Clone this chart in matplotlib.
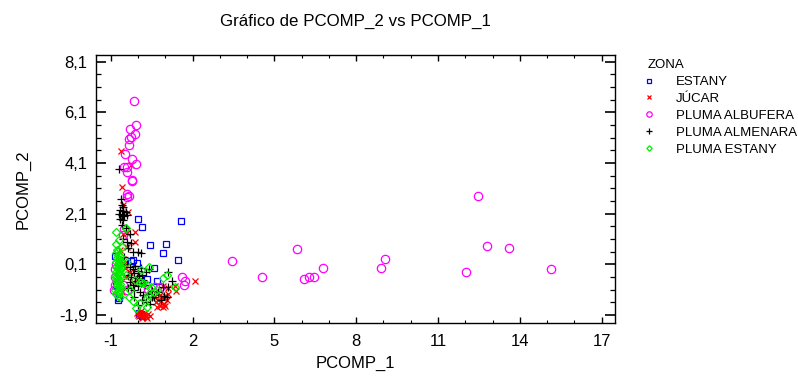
import matplotlib
matplotlib.use("Agg")
import matplotlib.pyplot as plt
from matplotlib.ticker import FixedLocator, MultipleLocator, FuncFormatter

plt.rcParams['font.family'] = ['Liberation Sans', 'DejaVu Sans']

# ---- data: principal component scores by zone ----
estany_x = [0.00, 0.15, 1.56, 0.45, 1.03, 0.91, 1.45, 0.58, -0.18, -0.05, 0.70, 0.32,
            -0.68, 0.05, 0.10, -0.85, -0.80, -0.25, 0.15, -0.75, 0.12]
estany_y = [1.89, 1.59, 1.82, 0.86, 0.90, 0.55, 0.28, -0.03, 0.28, 0.14, -0.55, -0.47,
            -1.24, -1.83, -1.90, 0.45, -0.70, 0.23, -1.95, -1.30, -1.87]

jucar_x = [-0.62, -0.27, -0.59, -0.35, -0.54, -0.60, -0.10, -0.11, -0.41, -0.54, 2.09, 0.91,
           1.40, 1.36, 1.11, -0.55, -0.50, -0.48, -0.60, -0.45, -0.65, -0.40, -0.30, -0.20,
           0.70, 0.80, 0.90, 1.00, 0.75, 0.85, 0.95, 1.05, 0.80, 0.90, 0.65, 1.10, 0.60,
           1.00, 0.70, -0.03, 0.05, 0.12, 0.20, 0.28, 0.37, 0.15, 0.25, 0.00, 0.32, 0.10, 0.45]
jucar_y = [4.59, 4.02, 3.15, 2.18, 2.44, 1.98, 0.97, 1.39, 1.33, 1.30, -0.55, -0.76,
           -0.94, -0.74, -0.84, 0.30, 0.10, -0.05, -0.98, -0.40, 0.65, 0.80, -0.20, -0.60,
           -1.05, -1.10, -1.20, -1.15, -1.30, -1.35, -1.45, -1.30, -1.55, -1.60, -1.40, -1.05, -1.20,
           -1.55, -1.60, -1.80, -1.95, -1.90, -1.98, -1.92, -1.85, -2.00, -1.80, -1.88, -2.00, -1.75, -1.95]

albufera_x = [3.44, 4.54, 5.84, 6.10, 6.28, 6.44, 6.79, 8.92, 9.07, 12.04, 12.45, 12.78, 13.62, 15.15,
              1.61, 1.73, 1.67, 0.63, 0.81, 0.36,
              -0.14, -0.08, -0.29, -0.11, -0.27, -0.32, -0.33, -0.46, -0.22, -0.06, -0.50, -0.39,
              -0.41, -0.23, -0.21, -0.39, -0.34, -0.41, -0.54, -0.50,
              -0.85, -0.85, -0.85, -0.88, -0.80, -0.55, -0.41]
albufera_y = [0.23, -0.41, 0.69, -0.48, -0.41, -0.41, -0.06, -0.03, 0.30, -0.19, 2.81, 0.81, 0.75, -0.08,
              -0.39, -0.56, -0.72, -0.81, -0.81, -0.87,
              6.55, 5.59, 5.43, 5.25, 5.12, 5.06, 4.81, 4.47, 4.27, 4.05, 3.93, 3.93,
              3.76, 3.42, 3.39, 2.90, 2.81, 2.77, 1.26, 1.50,
              -0.10, -0.40, -0.70, -0.90, 0.10, -0.72, -0.91]

almenara_x = [-0.70, -0.63, -0.60, -0.54, -0.65, -0.55, -0.45, -0.70, -0.60, -0.50, -0.40, -0.65,
              -0.55, -0.60, -0.45, -0.29, -0.40, -0.25, -0.17, 0.01, 0.11, -0.55, -0.35, -0.50,
              -0.40, -0.30, -0.20, -0.10, 0.00, 0.10, -0.35, -0.25, -0.15, -0.05, 0.05, 0.15,
              -0.30, -0.20, -0.10, 0.00, 0.10, 0.20, -0.35, -0.15, 0.30, 0.40, 0.25,
              1.09, 1.26, 1.11, 0.91, 1.08, 0.50,
              0.08, 0.20, 0.35, 0.50, 0.60, 0.15, 0.30, 0.01, -0.15, 0.45, 0.75, 0.85, 0.95]
almenara_y = [3.86, 2.67, 2.44, 2.38, 2.25, 2.20, 2.18, 2.10, 2.05, 2.00, 2.05, 1.90,
              1.85, 1.65, 1.55, 1.30, 1.00, 0.95, 0.60, 0.60, 0.56, 1.10, 0.75, 0.40,
              0.10, 0.00, -0.10, 0.05, -0.15, -0.05, -0.30, -0.40, -0.25, -0.45, -0.35, -0.30,
              -0.60, -0.70, -0.55, -0.75, -0.65, -0.50, -0.85, -0.90, -0.20, -0.10, -0.70,
              -0.21, -0.56, -0.78, -0.81, -1.18, -1.20,
              -1.00, -1.10, -1.05, -0.95, -1.20, -1.30, -1.40, -1.50, -1.20, -1.45, -1.00, -1.30, -1.15]

pestany_x = [-0.81, -0.68, -0.44, -0.60, -0.74,
             -0.80, -0.72, -0.65, -0.78, -0.70, -0.62, -0.82, -0.75, -0.68, -0.80,
             -0.73, -0.66, -0.79, -0.71, -0.63, -0.84, -0.76, -0.69, -0.81, -0.74,
             -0.67, -0.78, -0.71, -0.64, -0.83, -0.75, -0.68, -0.80, -0.72, -0.65,
             -0.77, -0.70, -0.62, -0.82, -0.74, -0.67, -0.79, -0.72,
             0.41, 0.11, -0.12, 0.08, 0.20, 0.34, 0.49, 0.93, 1.06, 1.34,
             -0.32, -0.17, 0.08, 0.32, -0.07, 0.32, 0.38, -0.45, -0.40, -0.30, 0.60, 0.70]
pestany_y = [1.37, 1.06, 1.55, 0.80, 0.63,
             0.55, 0.48, 0.42, 0.36, 0.30, 0.24, 0.18, 0.12, 0.06, 0.00,
             -0.06, -0.12, -0.18, -0.24, -0.30, -0.36, -0.42, -0.48, -0.54, -0.60,
             -0.66, -0.72, -0.78, -0.84, -0.90, -0.96, -1.02, -1.08, -1.14, -1.20,
             0.68, 0.20, -0.02, -0.40, -0.25, -0.80, 0.90, -1.00,
             -0.01, -0.12, -0.52, -0.59, -0.65, -0.72, -0.81, -0.43, -0.32, -0.78,
             -1.18, -1.34, -1.44, -1.57, -1.61, -1.24, -1.11, -0.30, 0.20, -0.90, -1.00, -0.90]

zone_names = ['ESTANY', 'JÚCAR', 'PLUMA ALBUFERA', 'PLUMA ALMENARA', 'PLUMA ESTANY']

x_major = [-1, 2, 5, 8, 11, 14, 17]
y_major = [-1.9, 0.1, 2.1, 4.1, 6.1, 8.1]

# ---- figure ----
fig = plt.figure(figsize=(7.98, 3.76), dpi=100)
ax = fig.add_axes([0.12, 0.1418, 0.651, 0.7127])

series = [
    (estany_x, estany_y, dict(marker='s', color='#0000ff', ms=4.0, mfc='none', mew=0.9)),
    (jucar_x, jucar_y, dict(marker='x', color='#ff0000', ms=4.5, mew=0.9)),
    (albufera_x, albufera_y, dict(marker='o', color='#ff00ff', ms=6.0, mfc='none', mew=0.9)),
    (almenara_x, almenara_y, dict(marker='+', color='#000000', ms=6.0, mew=0.9)),
    (pestany_x, pestany_y, dict(marker='D', color='#00ee00', ms=4.2, mfc='none', mew=0.9)),
]
handles = []
for (xs, ys, st), name in zip(series, zone_names):
    h, = ax.plot(xs, ys, linestyle='none', label=name, **st)
    handles.append(h)

ax.set_xlim(-1.55, 17.5)
ax.set_ylim(-2.2, 8.38)

ax.xaxis.set_major_locator(FixedLocator(x_major))
ax.xaxis.set_minor_locator(MultipleLocator(1))
ax.yaxis.set_major_locator(FixedLocator(y_major))
ax.yaxis.set_minor_locator(FixedLocator([v / 10 for v in range(-19, 82, 5)]))

comma = FuncFormatter(lambda v, p: ('%.1f' % v).replace('.', ','))
ax.yaxis.set_major_formatter(comma)
ax.xaxis.set_major_formatter(FuncFormatter(lambda v, p: '%d' % round(v)))

ax.tick_params(axis='both', which='both', direction='in', top=True, right=True,
               labelsize=12, color='black')
ax.tick_params(axis='x', which='major', length=4, width=1, pad=8)
ax.tick_params(axis='x', which='minor', length=2.5, width=0.8)
ax.tick_params(axis='y', which='major', length=7.5, width=1.2, pad=6)
ax.tick_params(axis='y', which='minor', length=3.8, width=0.9)
for s in ax.spines.values():
    s.set_linewidth(1.0)

ax.set_xlabel('PCOMP_1', fontsize=12, labelpad=5)
ax.set_ylabel('PCOMP_2', fontsize=12, labelpad=20)
fig.text(0.4455, 0.942, 'Gráfico de PCOMP_2 vs PCOMP_1', ha='center', va='center', fontsize=12.2)

leg = ax.legend(handles=handles, loc='upper left', bbox_to_anchor=(0.8117, 0.842),
                bbox_transform=fig.transFigure, frameon=False, title='ZONA',
                alignment='left', fontsize=9.5, title_fontsize=9.5, markerscale=0.65,
                handlelength=0.2, handletextpad=1.95, labelspacing=0.35, borderaxespad=0,
                borderpad=0)

fig.savefig('out.png', dpi=100)
